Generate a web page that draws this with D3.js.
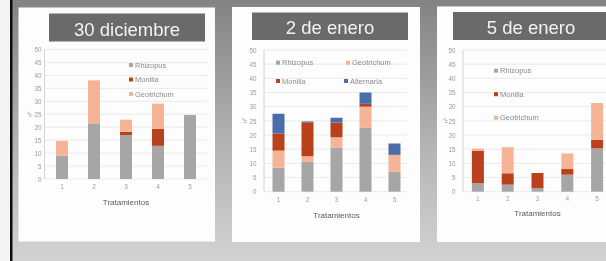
<!DOCTYPE html>
<html><head><meta charset="utf-8">
<script src="https://cdn.jsdelivr.net/npm/d3@7"></script>
<style>html,body{margin:0;padding:0;background:#fff;overflow:hidden}svg{display:block}</style>
</head><body>
<script>
// ---- data ----
const categories = ["1","2","3","4","5"];
const yTicks = [0,5,10,15,20,25,30,35,40,45,50];
const titles = ["30 diciembre","2 de enero","5 de enero"];
const xTitle = "Tratamientos";
const yTitle = "nº";

// 30 diciembre (stack order bottom->top: Rhizopus, Monilia, Geotrichum)
const dic30Series = ["Rhizopus","Monilia","Geotrichum"];
const dic30Rhizopus   = [9, 21.5, 17, 12.8, 24.7];
const dic30Monilia    = [0, 0, 1.2, 6.6, 0];
const dic30Geotrichum = [5.7, 16.6, 4.7, 9.7, 0];

// 2 de enero (bottom->top: Rhizopus, Geotrichum, Monilia, Alternaria)
const ene2Series = ["Rhizopus","Geotrichum","Monilia","Alternaria"];
const ene2Rhizopus   = [8.5, 10.5, 15.5, 22.5, 7];
const ene2Geotrichum = [6, 2, 3.7, 7.5, 6];
const ene2Monilia    = [6, 12, 5.2, 1, 0];
const ene2Alternaria = [7, 0.3, 1.7, 4, 4];

// 5 de enero (bottom->top: Rhizopus, Monilia, Geotrichum)
const ene5Series = ["Rhizopus","Monilia","Geotrichum"];
const ene5Rhizopus   = [3, 2.5, 1.3, 6, 15.3];
const ene5Monilia    = [11.5, 4, 5.3, 2, 3];
const ene5Geotrichum = [0.7, 9.2, 0, 5.5, 13];

const colors = {Rhizopus:"#a6a6a6", Monilia:"#b9421a", Geotrichum:"#f6b496", Alternaria:"#4a6eaa"};

// ---- drawing ----
const W = 606, H = 261;
const svg = d3.select("body").append("svg").attr("width", W).attr("height", H);
const defs = svg.append("defs");
const grad = defs.append("linearGradient").attr("id","bg").attr("x1",0).attr("y1",0).attr("x2",0).attr("y2",1);
grad.append("stop").attr("offset","0%").attr("stop-color","#838383");
grad.append("stop").attr("offset","55%").attr("stop-color","#b3b3b3");
grad.append("stop").attr("offset","100%").attr("stop-color","#d2d2d2");
const blur = defs.append("filter").attr("id","soft").attr("x","-5%").attr("y","-5%").attr("width","110%").attr("height","110%");
blur.append("feGaussianBlur").attr("stdDeviation",0.35);

const root = svg.append("g").attr("filter","url(#soft)");
root.append("rect").attr("width",W).attr("height",H).attr("fill","#f4f4f4");
root.append("rect").attr("x",12).attr("width",W-12).attr("height",H).attr("fill","url(#bg)");
root.append("rect").attr("x",10).attr("width",2.5).attr("height",H).attr("fill","#111");

function rows(series, arrays){
  return categories.map((c,i)=>{
    const o = {cat:c};
    series.forEach((s,k)=>o[s]=arrays[k][i]);
    return o;
  });
}

const panels = [
  {title:titles[0], series:dic30Series, data:rows(dic30Series,[dic30Rhizopus,dic30Monilia,dic30Geotrichum]),
   card:[18.5,7.5,196.5,234], tbox:[49,13.5,156,28], tcx:127, tby:35.5,
   xr:[46,206], yr:[179,49.5], axisX:44.5, tickX:41.5, tickY:190, xtY:205, ytX:30, gridEnd:207,
   legend:{type:"col", x:131, y0:65, dy:14.5}},
  {title:titles[1], series:ene2Series, data:rows(ene2Series,[ene2Rhizopus,ene2Geotrichum,ene2Monilia,ene2Alternaria]),
   card:[232,7,188,235], tbox:[252,12.5,156,27.5], tcx:330, tby:34,
   xr:[264,409], yr:[191.7,50], axisX:264, tickX:256.5, tickY:203, xtY:218, ytX:245, gridEnd:407,
   legend:{type:"grid", items:[["Rhizopus",278,62.7],["Geotrichum",348,62.7],["Monilia",278,81],["Alternaria",346,81]]}},
  {title:titles[2], series:ene5Series, data:rows(ene5Series,[ene5Rhizopus,ene5Monilia,ene5Geotrichum]),
   card:[437,6.5,180,235.5], tbox:[453,12,170,28], tcx:531, tby:34,
   xr:[463,612], yr:[191.7,50], axisX:463, tickX:455.5, tickY:202, xtY:216, ytX:446, gridEnd:620,
   legend:{type:"col", x:496, y0:70.7, dy:23.5}}
];

panels.forEach(p=>{
  const g = root.append("g");
  g.append("rect").attr("x",p.card[0]).attr("y",p.card[1]).attr("width",p.card[2]).attr("height",p.card[3]).attr("fill","#fdfdfd");
  g.append("rect").attr("x",p.tbox[0]).attr("y",p.tbox[1]).attr("width",p.tbox[2]).attr("height",p.tbox[3]).attr("fill","#6c6969");
  g.append("text").attr("x",p.tcx).attr("y",p.tby).attr("text-anchor","middle")
    .attr("font-family","Liberation Sans, Arial, sans-serif").attr("font-size",18.5).attr("fill","#f2f2f2").text(p.title);

  const x = d3.scaleBand().domain(categories).range(p.xr).paddingInner(0).paddingOuter(0);
  const y = d3.scaleLinear().domain([0,50]).range(p.yr);

  // gridlines
  g.append("g").selectAll("line").data(yTicks).join("line")
    .attr("x1",p.axisX).attr("x2",p.gridEnd).attr("y1",d=>y(d)).attr("y2",d=>y(d))
    .attr("stroke","#e6e6e6").attr("stroke-width",0.8);
  // y axis line
  g.append("line").attr("x1",p.axisX).attr("x2",p.axisX).attr("y1",y(50)).attr("y2",y(0))
    .attr("stroke","#cfcfcf").attr("stroke-width",0.9);

  // y tick labels via d3 axis
  const ya = d3.axisLeft(y).tickValues(yTicks).tickSize(0).tickPadding(0);
  const yg = g.append("g").attr("transform",`translate(${p.tickX},0)`).call(ya);
  yg.select(".domain").remove();
  yg.selectAll("text").attr("font-size",6.3).attr("fill","#9a9a9a").attr("font-family","Liberation Sans, Arial, sans-serif").attr("dy","0.34em");

  // x tick labels via d3 axis
  const xa = d3.axisBottom(x).tickSize(0).tickPadding(0);
  const xg = g.append("g").attr("transform",`translate(0,${p.tickY-6})`).call(xa);
  xg.select(".domain").remove();
  xg.selectAll("text").attr("font-size",6.5).attr("fill","#a0a0a0").attr("font-family","Liberation Sans, Arial, sans-serif").attr("dy","0.71em");

  // bars
  const stack = d3.stack().keys(p.series)(p.data);
  const bw = 12;
  g.append("g").selectAll("g").data(stack).join("g").attr("fill",d=>colors[d.key])
    .selectAll("rect").data(d=>d).join("rect")
    .attr("x",d=>x(d.data.cat)+(x.bandwidth()-bw)/2).attr("width",bw)
    .attr("y",d=>y(d[1])).attr("height",d=>Math.max(0,y(d[0])-y(d[1])));

  // titles
  g.append("text").attr("x",(p.xr[0]+Math.min(p.xr[1],606+ (p.xr[1]-606)))/2).attr("y",p.xtY)
    .attr("text-anchor","middle").attr("font-family","Liberation Sans, Arial, sans-serif")
    .attr("font-size",8).attr("fill","#5a5a5a").text(xTitle);
  g.append("text").attr("transform",`translate(${p.ytX},${y(25)}) rotate(-90)`).attr("text-anchor","middle")
    .attr("dy","0.35em").attr("font-family","Liberation Sans, Arial, sans-serif").attr("font-size",6).attr("fill","#9a9a9a").text(yTitle);

  // legend
  let items;
  if (p.legend.type==="col") {
    items = ["Rhizopus","Monilia","Geotrichum"].map((s,i)=>[s,p.legend.x,p.legend.y0+i*p.legend.dy]);
  } else items = p.legend.items;
  const lg = g.append("g");
  items.forEach(([s,lx,ly])=>{
    lg.append("rect").attr("x",lx-2).attr("y",ly-2).attr("width",4).attr("height",4).attr("fill",colors[s]);
    lg.append("text").attr("x",lx+4).attr("y",ly).attr("dy","0.35em").attr("font-family","Liberation Sans, Arial, sans-serif")
      .attr("font-size",7.5).attr("fill","#8a8a8a").text(s);
  });
});
</script>
</body></html>
